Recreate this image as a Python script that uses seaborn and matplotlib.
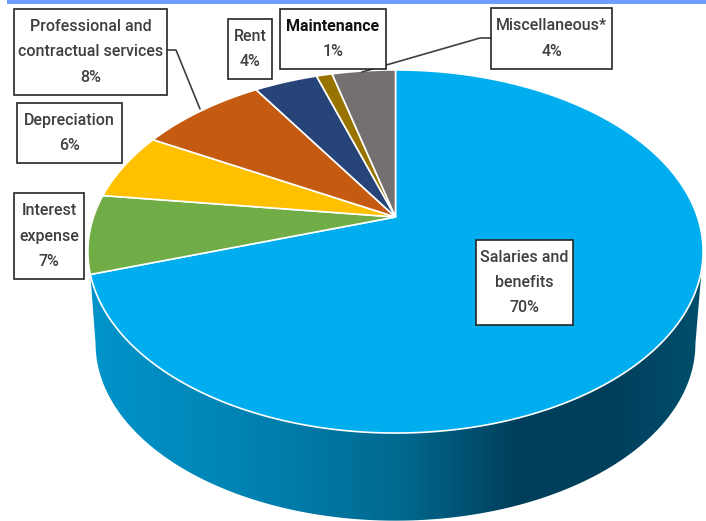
import numpy as np
import matplotlib
matplotlib.use("Agg")
import matplotlib.pyplot as plt
from matplotlib.colors import LinearSegmentedColormap
from matplotlib.patches import Polygon, Rectangle
import seaborn as sns

# values, clockwise from 12 o'clock
categories = ["Salaries and\nbenefits", "Interest\nexpense", "Depreciation",
              "Professional and\ncontractual services", "Rent", "Maintenance",
              "Miscellaneous*"]
shares = [70, 7, 6, 8, 4, 1, 4]
slice_colors = ["#00AEEF", "#70AD47", "#FFC000", "#C55A11", "#264478", "#997300", "#757070"]

# label boxes in pixels: left, top, right, bottom
boxes = [(476, 240, 573, 325), (14, 193, 84, 279), (17, 103, 122, 163),
         (14, 9, 167, 95), (228, 19, 272, 79), (280, 9, 386, 69), (491, 8, 612, 69)]

sns.set_theme(style="white")
plt.rcParams["font.family"] = ["Roboto", "DejaVu Sans"]

fig = plt.figure(figsize=(7.06, 5.21), dpi=100)
ax = fig.add_axes([0, 0, 1, 1])
ax.set_xlim(0, 706)
ax.set_ylim(521, 0)
ax.axis("off")

# perspective projection of the pie disc
tilt = 0.19


def project(theta, r=1.0, x0=395.5, y0=217, a=302, b=175):
    u = r * np.sin(theta)
    v = r * np.cos(theta)
    w = 1 + tilt * v
    return np.column_stack([x0 + a * u / w, y0 - b * v / w])


fracs = np.cumsum([0] + shares) / sum(shares) * 2 * np.pi

# side wall with gradient
wall_start = np.arccos(-tilt)
top_arc = project(np.linspace(wall_start, fracs[1], 200))
bottom_arc = project(np.linspace(wall_start, 2 * np.pi - wall_start, 200),
                     y0=310, a=302 * 0.975, b=175 * 0.975)
wall = Polygon(np.vstack([top_arc, bottom_arc[::-1]]), closed=True, fc="none", ec="none")
ax.add_patch(wall)
wall_cmap = LinearSegmentedColormap.from_list(
    "wall", [(0, "#0094CA"), (0.25, "#0083B3"), (0.5, "#006A90"), (0.7, "#003F5B"),
             (0.85, "#003F5B"), (1, "#004F6E")])
grad = ax.imshow(np.linspace(0, 1, 256).reshape(1, -1), cmap=wall_cmap, aspect="auto",
                 extent=(90, 703, 521, 217), zorder=1)
grad.set_clip_path(wall)
ax.set_xlim(0, 706)
ax.set_ylim(521, 0)

# top slices
for i, color in enumerate(slice_colors):
    arc = project(np.linspace(fracs[i], fracs[i + 1], 200))
    pts = np.vstack([[395.5, 217], arc])
    ax.add_patch(Polygon(pts, closed=True, fc=color, ec="white", lw=1.2, zorder=2))

# leader lines
ax.plot([167, 176, 200], [50, 50, 109], color="#404040", lw=1.2, zorder=3)
ax.plot([491, 480, 362], [38, 38, 72], color="#404040", lw=1.2, zorder=3)

# label boxes
for label, share, (x0, y0, x1, y1) in zip(categories, shares, boxes):
    ax.add_patch(Rectangle((x0, y0), x1 - x0, y1 - y0, fc="white", ec="#262626", lw=1.2, zorder=4))
    cx, cy = (x0 + x1) / 2, (y0 + y1) / 2
    style = dict(ha="center", va="center", fontsize=11.5, linespacing=1.85, zorder=5)
    if label == "Maintenance":
        # only the name is bold and black in this box
        ax.text(cx, cy - 12.5, label, fontweight="bold", color="#111111", **style)
        ax.text(cx, cy + 12.5, f"{share}%", fontweight="medium", color="#3f3f3f", **style)
    else:
        ax.text(cx, cy, f"{label}\n{share}%", fontweight="medium", color="#3f3f3f", **style)

# strip along the top edge
ax.add_patch(Rectangle((7, 0), 699, 3.5, fc="#6C9EFF", ec="none", zorder=6))

fig.savefig("out.png", dpi=100)
